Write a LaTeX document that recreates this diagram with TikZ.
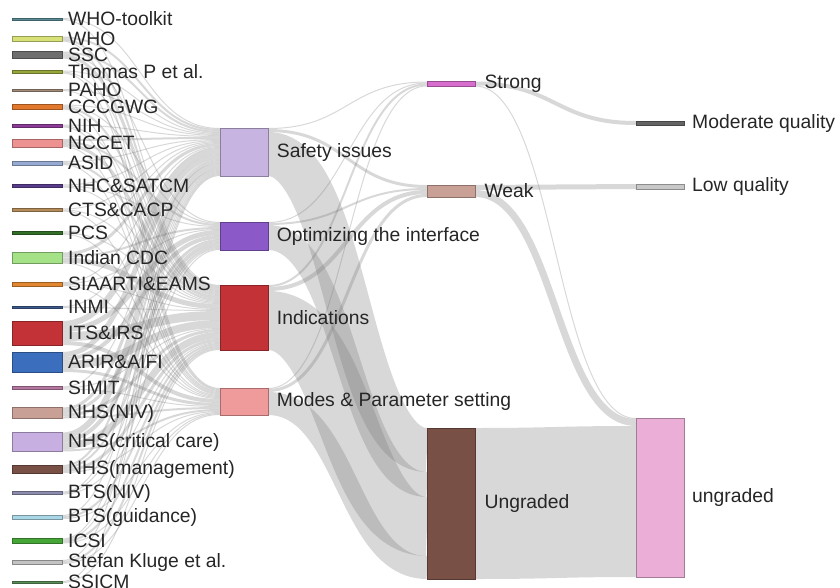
\documentclass[tikz,border=0pt]{standalone}
\usepackage{fontspec}
\setmainfont{Liberation Sans}
\usetikzlibrary{calc,backgrounds}

% node colours
\definecolor{cWhot}{RGB}{90,140,150}
\definecolor{cWho}{RGB}{215,225,120}
\definecolor{cSsc}{RGB}{110,110,110}
\definecolor{cThom}{RGB}{150,165,60}
\definecolor{cPaho}{RGB}{160,140,120}
\definecolor{cCccg}{RGB}{225,120,45}
\definecolor{cNih}{RGB}{140,60,150}
\definecolor{cNcc}{RGB}{238,145,145}
\definecolor{cAsid}{RGB}{150,170,210}
\definecolor{cNhc}{RGB}{90,60,140}
\definecolor{cCts}{RGB}{180,140,90}
\definecolor{cPcs}{RGB}{50,110,40}
\definecolor{cIcdc}{RGB}{165,225,135}
\definecolor{cSiaa}{RGB}{225,135,50}
\definecolor{cInmi}{RGB}{60,90,140}
\definecolor{cIts}{RGB}{195,50,55}
\definecolor{cArir}{RGB}{60,110,190}
\definecolor{cSimit}{RGB}{180,120,160}
\definecolor{cNhsniv}{RGB}{200,160,150}
\definecolor{cNhscc}{RGB}{200,175,225}
\definecolor{cNhsm}{RGB}{120,80,70}
\definecolor{cBtsniv}{RGB}{140,140,175}
\definecolor{cBtsg}{RGB}{170,215,230}
\definecolor{cIcsi}{RGB}{70,165,55}
\definecolor{cStef}{RGB}{195,195,195}
\definecolor{cSsicm}{RGB}{90,140,90}
\definecolor{cSafe}{RGB}{200,180,225}
\definecolor{cOpt}{RGB}{140,90,200}
\definecolor{cInd}{RGB}{195,50,55}
\definecolor{cMod}{RGB}{240,155,155}
\definecolor{cStr}{RGB}{215,110,205}
\definecolor{cWeak}{RGB}{200,160,150}
\definecolor{cUng}{RGB}{120,80,70}
\definecolor{cModq}{RGB}{100,100,100}
\definecolor{cLow}{RGB}{200,200,200}
\definecolor{cUngb}{RGB}{235,175,215}

\tikzset{
  bar/.style={draw=#1!70!black, fill=#1, line width=0.5pt, inner sep=0pt, outer sep=0pt, minimum width=14.4mm},
  flow/.style={draw=black!55, draw opacity=0.28},
  lbl/.style={font=\fontsize{16.5}{18}\selectfont, text=black!85, inner sep=0pt},
}

% a band from one node to the next, stacked from the top of both nodes
\makeatletter
\newcommand\flow[3]{%
  \@ifundefined{fo@#1}{\global\@namedef{fo@#1}{0}}{}%
  \@ifundefined{fi@#2}{\global\@namedef{fi@#2}{0}}{}%
  \pgfmathsetmacro\fa{\@nameuse{fo@#1}+#3/2}%
  \pgfmathsetmacro\fb{\@nameuse{fi@#2}+#3/2}%
  \draw[flow, line width=#3*0.3mm]
    let \p1=([yshift=-\fa*0.3mm]#1.north east), \p2=([yshift=-\fb*0.3mm]#2.north west)
    in (\p1) .. controls (\x1/2+\x2/2,\y1) and (\x1/2+\x2/2,\y2) .. (\p2);
  \pgfmathsetmacro\fa{\@nameuse{fo@#1}+#3}%
  \global\expandafter\let\csname fo@#1\endcsname\fa
  \pgfmathsetmacro\fb{\@nameuse{fi@#2}+#3}%
  \global\expandafter\let\csname fi@#2\endcsname\fb
}
\makeatother

\begin{document}
\begin{tikzpicture}[x=0.3mm, y=-0.3mm]
\useasboundingbox (0,0) rectangle (840,588);

% sources
\foreach \nm/\yy/\hh/\cc/\tx in {
  whot/19/2/cWhot/WHO-toolkit, who/39/5/cWho/WHO, ssc/55/7/cSsc/SSC,
  thom/72/3/cThom/Thomas P et al., paho/90/2/cPaho/PAHO, cccg/107/5/cCccg/CCCGWG,
  nih/126/3/cNih/NIH, ncc/143/8/cNcc/NCCET, asid/163/4/cAsid/ASID,
  nhc/186/3/cNhc/NHC\&SATCM, cts/210/3/cCts/CTS\&CACP, pcs/233/3/cPcs/PCS,
  icdc/258/11/cIcdc/Indian CDC, siaa/284/4/cSiaa/SIAARTI\&EAMS, inmi/307/2/cInmi/INMI,
  its/333/24/cIts/ITS\&IRS, arir/362/20/cArir/ARIR\&AIFI, simit/388/3/cSimit/SIMIT,
  nhsniv/413/11/cNhsniv/NHS(NIV), nhscc/442/19/cNhscc/NHS(critical care),
  nhsm/469/8/cNhsm/NHS(management), btsniv/493/3/cBtsniv/BTS(NIV),
  btsg/517/4/cBtsg/BTS(guidance), icsi/541/5/cIcsi/ICSI,
  stef/562/4/cStef/Stefan Kluge et al., ssicm/582/2/cSsicm/SSICM}
  \node[bar=\cc, minimum width=15mm, minimum height=\hh*0.3mm,
    label={[lbl, label distance=1.8mm]right:\tx}] (\nm) at (37,\yy) {};

% categories
\node[bar=cSafe, minimum height=48*0.3mm, anchor=north, label={[lbl, label distance=2.6mm]right:Safety issues}] (safe) at (244,128) {};
\node[bar=cOpt, minimum height=28*0.3mm, anchor=north, label={[lbl, label distance=2.6mm]right:Optimizing the interface}] (opt) at (244,222) {};
\node[bar=cInd, minimum height=65*0.3mm, anchor=north, label={[lbl, label distance=2.6mm]right:Indications}] (ind) at (244,285) {};
\node[bar=cMod, minimum height=27*0.3mm, anchor=north, label={[lbl, label distance=2.6mm]right:Modes \& Parameter setting}] (mod) at (244,388) {};

% recommendation strength
\node[bar=cStr, minimum height=5*0.3mm, anchor=north, label={[lbl, label distance=2.8mm]right:Strong}] (str) at (451,81.5) {};
\node[bar=cWeak, minimum height=12*0.3mm, anchor=north, label={[lbl, label distance=2.8mm]right:Weak}] (weak) at (451,185) {};
\node[bar=cUng, minimum height=151*0.3mm, anchor=north, label={[lbl, label distance=2.8mm]right:Ungraded}] (ung) at (451,428) {};

% evidence quality
\node[bar=cModq, minimum height=4*0.3mm, anchor=north, label={[lbl, label distance=2.4mm]right:Moderate quality}] (modq) at (660,121) {};
\node[bar=cLow, minimum height=5*0.3mm, anchor=north, label={[lbl, label distance=2.4mm]right:Low quality}] (low) at (660,184) {};
\node[bar=cUngb, minimum height=159*0.3mm, anchor=north, label={[lbl, label distance=2.4mm]right:ungraded}] (ungb) at (660,418) {};

\begin{pgfonlayer}{background}
\foreach \s/\t/\w in {
  whot/safe/1, whot/ind/1,
  who/safe/2, who/ind/2, who/mod/1,
  ssc/safe/2, ssc/opt/1, ssc/ind/3, ssc/mod/1,
  thom/safe/1, thom/ind/1, thom/mod/1,
  paho/safe/1, paho/ind/1,
  cccg/safe/1, cccg/opt/1, cccg/ind/2, cccg/mod/1,
  nih/safe/1, nih/ind/1, nih/mod/1,
  ncc/safe/2, ncc/opt/2, ncc/ind/3, ncc/mod/1,
  asid/safe/1, asid/ind/2, asid/mod/1,
  nhc/safe/1, nhc/opt/1, nhc/ind/1,
  cts/safe/1, cts/ind/1, cts/mod/1,
  pcs/safe/1, pcs/ind/1, pcs/mod/1,
  icdc/safe/3, icdc/opt/2, icdc/ind/5, icdc/mod/1,
  siaa/safe/1, siaa/opt/1, siaa/ind/1, siaa/mod/1,
  inmi/safe/1, inmi/ind/1,
  its/safe/6, its/opt/5, its/ind/9, its/mod/4,
  arir/safe/5, arir/opt/4, arir/ind/8, arir/mod/3,
  simit/safe/1, simit/ind/1, simit/mod/1,
  nhsniv/safe/3, nhsniv/opt/3, nhsniv/ind/3, nhsniv/mod/2,
  nhscc/safe/6, nhscc/opt/4, nhscc/ind/7, nhscc/mod/2,
  nhsm/safe/2, nhsm/opt/2, nhsm/ind/3, nhsm/mod/1,
  btsniv/safe/1, btsniv/opt/1, btsniv/ind/1,
  btsg/safe/1, btsg/ind/2, btsg/mod/1,
  icsi/safe/1, icsi/opt/1, icsi/ind/2, icsi/mod/1,
  stef/safe/1, stef/ind/2, stef/mod/1,
  ssicm/safe/1, ssicm/ind/1,
  safe/str/1, safe/weak/3, safe/ung/44,
  opt/str/1, opt/weak/2, opt/ung/25,
  ind/str/2, ind/weak/4, ind/ung/59,
  mod/str/1, mod/weak/3, mod/ung/23,
  str/modq/4, str/ungb/1,
  weak/low/5, weak/ungb/7,
  ung/ungb/151}
  \flow{\s}{\t}{\w};
\end{pgfonlayer}
\end{tikzpicture}
\end{document}
